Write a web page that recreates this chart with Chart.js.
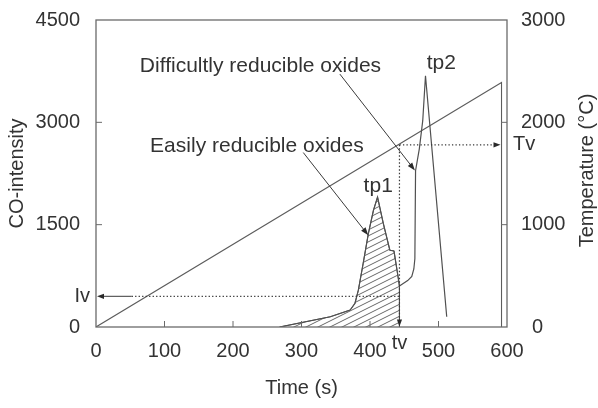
<!DOCTYPE html>
<html>
<head>
<meta charset="utf-8">
<script src="https://cdn.jsdelivr.net/npm/chart.js@4.4.1/dist/chart.umd.min.js"></script>
<style>
html,body{margin:0;padding:0;background:#fff;}
#wrap{width:598px;height:408px;}
</style>
</head>
<body>
<div id="wrap"><canvas id="c" width="598" height="408"></canvas></div>
<script>
// ---------- data ----------
const timeTicks = [0, 100, 200, 300, 400, 500, 600];
const coTicks = [0, 1500, 3000, 4500];
const tempTicks = [0, 1000, 2000, 3000];

// CO-intensity curve: time (s) and intensity
const coTime      = [268, 342, 371, 378, 383, 390, 397.6, 405, 411, 419.5, 429, 435, 441, 443, 455, 461, 464, 465.5, 466.5, 472, 477, 481, 512];
const coIntensity = [0,   150, 248, 346, 540, 931, 1369, 1709, 1904, 1515, 1125, 1115, 735, 600, 680, 740, 850, 1000, 2290, 2611, 3024, 3682, 150];

// Temperature ramp: time (s) and temperature (°C)
const tempTime  = [0, 592, 592];
const tempValue = [0, 2390, 0];

// Characteristic values
const tvTime = 443;    // tv (s)
const tvTemp = 1780;   // Tv (°C)
const ivValue = 450;   // Iv (CO-intensity)
const tp1Time = 411, tp1Value = 1904;
const tp2Time = 481, tp2Value = 3682;

// ---------- styling ----------
const FONT = '"Liberation Sans", Arial, Helvetica, sans-serif';
const TEXT = '#333';
const LINE = '#6a6a6a';
const CURVE = '#505050';

function hatchPattern() {
  const c = document.createElement('canvas');
  c.width = 12; c.height = 6;
  const g = c.getContext('2d');
  g.strokeStyle = '#555';
  g.lineWidth = 0.9;
  for (let k = -1; k <= 1; k++) {
    g.beginPath();
    g.moveTo(0, 6 + 6 * k);
    g.lineTo(12, 6 * k);
    g.stroke();
  }
  return g.createPattern(c, 'repeat');
}

const coPoints = coTime.map((t, i) => ({x: t, y: coIntensity[i]}));
const hatchPoints = coTime.map((t, i) => ({x: t, y: coIntensity[i]})).filter(p => p.x <= tvTime);
hatchPoints.push({x: tvTime, y: 0});
const tempPoints = tempTime.map((t, i) => ({x: t, y: tempValue[i]}));

function arrowHead(ctx, x1, y1, x2, y2, len, w) {
  const a = Math.atan2(y2 - y1, x2 - x1);
  ctx.save();
  ctx.translate(x2, y2);
  ctx.rotate(a);
  ctx.beginPath();
  ctx.moveTo(0, 0);
  ctx.lineTo(-len, -w);
  ctx.lineTo(-len, w);
  ctx.closePath();
  ctx.fill();
  ctx.restore();
}
function seg(ctx, x1, y1, x2, y2) {
  ctx.beginPath(); ctx.moveTo(x1, y1); ctx.lineTo(x2, y2); ctx.stroke();
}

const annotations = {
  id: 'annotations',
  afterDraw(chart) {
    const {ctx, chartArea: a, scales: {x, y, y1}} = chart;
    ctx.save();
    // frame
    ctx.strokeStyle = LINE;
    ctx.lineWidth = 1.3;
    ctx.strokeRect(a.left, a.top, a.right - a.left, a.bottom - a.top);
    // inward tick marks
    ctx.lineWidth = 1;
    x.ticks.forEach(t => {
      if (t.value > x.min && t.value < x.max) {
        const p = x.getPixelForValue(t.value);
        seg(ctx, p, a.bottom, p, a.bottom - 6);
      }
    });
    y.ticks.forEach(t => {
      if (t.value > y.min && t.value < y.max) {
        const p = y.getPixelForValue(t.value);
        seg(ctx, a.left, p, a.left + 6, p);
      }
    });
    y1.ticks.forEach(t => {
      if (t.value > y1.min && t.value < y1.max) {
        const p = y1.getPixelForValue(t.value);
        seg(ctx, a.right, p, a.right - 6, p);
      }
    });

    const xtv = x.getPixelForValue(tvTime);
    const yTv = y1.getPixelForValue(tvTemp);
    const yIv = y.getPixelForValue(ivValue);
    const xEnd = x.getPixelForValue(tempTime[1]);

    ctx.strokeStyle = '#3a3a3a';
    ctx.fillStyle = '#2a2a2a';
    // Iv : solid shaft + dotted line
    ctx.lineWidth = 1;
    seg(ctx, a.left + 6, yIv, x.getPixelForValue(52), yIv);
    arrowHead(ctx, a.left + 10, yIv, a.left + 1, yIv, 7, 2.6);
    ctx.setLineDash([1.3, 2.2]);
    ctx.lineWidth = 1.2;
    seg(ctx, x.getPixelForValue(52), yIv, xtv, yIv);
    // Tv horizontal dotted
    seg(ctx, xtv, yTv, xEnd - 8, yTv);
    // tv vertical dotted
    seg(ctx, xtv, yTv, xtv, a.bottom - 7);
    ctx.setLineDash([]);
    arrowHead(ctx, xEnd - 10, yTv, xEnd - 1, yTv, 7, 2.6);
    arrowHead(ctx, xtv, a.bottom - 10, xtv, a.bottom - 0.5, 7, 2.6);

    // label arrows
    ctx.lineWidth = 1;
    const arrows = [
      [356, 3707, 465.6, 2294],
      [302.6, 2557, 397.5, 1344]
    ];
    arrows.forEach(([t1, v1, t2, v2]) => {
      const X1 = x.getPixelForValue(t1), Y1 = y.getPixelForValue(v1);
      const X2 = x.getPixelForValue(t2), Y2 = y.getPixelForValue(v2);
      const ang = Math.atan2(Y2 - Y1, X2 - X1);
      seg(ctx, X1, Y1, X2 - 6 * Math.cos(ang), Y2 - 6 * Math.sin(ang));
      arrowHead(ctx, X1, Y1, X2, Y2, 8, 2.8);
    });

    // texts
    ctx.fillStyle = TEXT;
    ctx.font = '21px ' + FONT;
    ctx.textAlign = 'left';
    ctx.textBaseline = 'alphabetic';
    ctx.fillText('Difficultly reducible oxides', x.getPixelForValue(64), y.getPixelForValue(3740));
    ctx.fillText('Easily reducible oxides', x.getPixelForValue(79), y.getPixelForValue(2561));
    ctx.textAlign = 'center';
    ctx.fillText('tp1', x.getPixelForValue(tp1Time + 1), y.getPixelForValue(tp1Value + 70));
    ctx.fillText('tp2', x.getPixelForValue(tp2Time + 23), y.getPixelForValue(tp2Value + 100));

    ctx.font = '20px ' + FONT;
    ctx.textBaseline = 'middle';
    ctx.textAlign = 'right';
    ctx.fillText('Iv', a.left - 6, yIv);
    ctx.textAlign = 'left';
    ctx.fillText('Tv', a.right + 6, yTv);
    ctx.textAlign = 'center';
    ctx.fillText('tv', xtv, a.bottom + 16);

    // right axis title (reads bottom to top)
    ctx.save();
    ctx.translate(587, (a.top + a.bottom) / 2 - 3);
    ctx.rotate(-Math.PI / 2);
    ctx.textAlign = 'center';
    ctx.textBaseline = 'middle';
    ctx.fillText('Temperature (°C)', 0, 0);
    ctx.restore();

    ctx.restore();
  }
};

const tickFont = {family: FONT, size: 20};
const plain = v => String(v);

new Chart(document.getElementById('c'), {
  type: 'line',
  data: {
    datasets: [
      {
        label: 'Easily reducible oxides',
        data: hatchPoints,
        yAxisID: 'y',
        borderColor: CURVE,
        borderWidth: 1,
        backgroundColor: hatchPattern(),
        fill: 'origin',
        pointRadius: 0,
        tension: 0
      },
      {
        label: 'CO-intensity',
        data: coPoints,
        yAxisID: 'y',
        borderColor: CURVE,
        borderWidth: 1.2,
        fill: false,
        pointRadius: 0,
        tension: 0
      },
      {
        label: 'Temperature',
        data: tempPoints,
        yAxisID: 'y1',
        borderColor: '#5c5c5c',
        borderWidth: 1.1,
        fill: false,
        pointRadius: 0,
        tension: 0
      }
    ]
  },
  options: {
    responsive: false,
    animation: false,
    devicePixelRatio: 1,
    layout: {padding: {top: 19, left: 0, right: 0, bottom: 0}},
    plugins: {legend: {display: false}, tooltip: {enabled: false}},
    scales: {
      x: {
        type: 'linear',
        position: 'bottom',
        min: timeTicks[0],
        max: timeTicks[timeTicks.length - 1],
        afterBuildTicks: s => { s.ticks = timeTicks.map(v => ({value: v})); },
        grid: {display: false},
        border: {display: false},
        ticks: {color: TEXT, font: tickFont, padding: 4, maxRotation: 0, autoSkip: false, callback: plain},
        title: {display: true, text: 'Time (s)', color: TEXT, font: tickFont, padding: {top: 0, bottom: 8}},
        afterFit: s => { s.height = 81; }
      },
      y: {
        type: 'linear',
        position: 'left',
        min: coTicks[0],
        max: coTicks[coTicks.length - 1],
        afterBuildTicks: s => { s.ticks = coTicks.map(v => ({value: v})); },
        grid: {display: false},
        border: {display: false},
        ticks: {color: TEXT, font: tickFont, padding: 8, callback: plain},
        title: {display: true, text: 'CO-intensity', color: TEXT, font: tickFont, padding: {top: 5, bottom: 0}},
        afterFit: s => { s.width = 96; }
      },
      y1: {
        type: 'linear',
        position: 'right',
        min: tempTicks[0],
        max: tempTicks[tempTicks.length - 1],
        afterBuildTicks: s => { s.ticks = tempTicks.map(v => ({value: v})); },
        grid: {display: false},
        border: {display: false},
        ticks: {color: TEXT, font: tickFont, padding: 6, callback: v => (v === 0 ? '  0' : String(v))},
        title: {display: false},
        afterFit: s => { s.width = 91; }
      }
    }
  },
  plugins: [annotations]
});
</script>
</body>
</html>
